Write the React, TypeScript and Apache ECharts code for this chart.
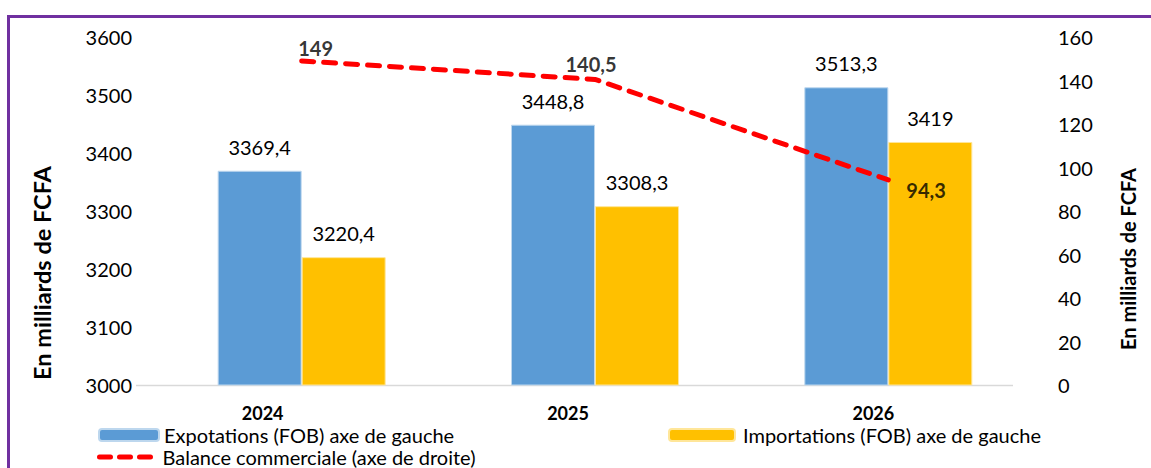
import React, { useEffect, useRef } from "react";
import * as echarts from "echarts";

const categories = ["2024", "2025", "2026"];
const exportations = [3369.4, 3448.8, 3513.3];
const importations = [3220.4, 3308.3, 3419];
const balance = [149, 140.5, 94.3];

const FONT = "Lato";
const fmt = (v: number) => String(v).replace(".", ",");
const DASH_ICON =
  "path://M2.5,0h11a2.5,2.5 0 0 1 0,5h-11a2.5,2.5 0 0 1 0,-5Z" +
  "M22.5,0h11a2.5,2.5 0 0 1 0,5h-11a2.5,2.5 0 0 1 0,-5Z" +
  "M42.5,0h11a2.5,2.5 0 0 1 0,5h-11a2.5,2.5 0 0 1 0,-5Z";

export default function App() {
  const ref = useRef<HTMLDivElement>(null);
  useEffect(() => {
    if (!ref.current) return;
    const chart = echarts.init(ref.current, null, { renderer: "svg" });
    const balanceLabels = [
      { position: "top", offset: [14, 2] },
      { position: "top", offset: [-4, 0] },
      { position: "right", offset: [13, 10] },
    ];
    const legendText = { fontSize: 20, lineHeight: 20, color: "#000", fontFamily: FONT };
    chart.setOption({
      animation: false,
      textStyle: { fontFamily: FONT },
      grid: { left: 155, right: 116, top: 37, bottom: 83 },
      legend: [
        {
          data: ["Expotations (FOB) axe de gauche"],
          left: 98, top: 425, itemWidth: 60, itemHeight: 12, padding: 0, itemGap: 5,
          textStyle: legendText,
        },
        {
          data: ["Importations (FOB) axe de gauche"],
          left: 668, top: 425, itemWidth: 66, itemHeight: 12, padding: 0,
          textStyle: { ...legendText, padding: [0, 0, 0, 3] },
        },
        {
          data: [{ name: "Balance commerciale (axe de droite)", icon: DASH_ICON, itemStyle: { color: "#ff0000" } }],
          left: 97, top: 447, itemWidth: 57, itemHeight: 5, padding: 0,
          textStyle: { ...legendText, padding: [0, 0, 0, 4] },
        },
      ],
      xAxis: {
        type: "category",
        data: categories,
        axisLine: { show: false },
        axisTick: { show: false },
        axisLabel: {
          margin: 19,
          formatter: (v: string, i: number) => `{a${i}|${v}}`,
          rich: {
            a0: { fontSize: 18, lineHeight: 18, fontWeight: "bold", color: "#000", fontFamily: FONT, padding: [0, 78, 0, 0] },
            a1: { fontSize: 18, lineHeight: 18, fontWeight: "bold", color: "#000", fontFamily: FONT, padding: [0, 54, 0, 0] },
            a2: { fontSize: 18, lineHeight: 18, fontWeight: "bold", color: "#000", fontFamily: FONT, padding: [0, 30, 0, 0] },
          },
        },
      },
      yAxis: [
        {
          type: "value", min: 3000, max: 3600, interval: 100,
          axisLine: { show: false }, axisTick: { show: false }, splitLine: { show: false },
          axisLabel: { fontSize: 20, color: "#000", margin: 23, fontFamily: FONT, formatter: (v: number) => String(v) },
        },
        {
          type: "value", min: 0, max: 160, interval: 20,
          axisLine: { show: false }, axisTick: { show: false }, splitLine: { show: false },
          axisLabel: { fontSize: 20, color: "#000", margin: 23, fontFamily: FONT, formatter: (v: number) => String(v) },
        },
      ],
      series: [
        {
          name: "Expotations (FOB) axe de gauche",
          type: "bar", data: exportations, barWidth: 84, barGap: "0%",
          itemStyle: { color: "#5b9bd5", borderColor: "#bdd7ee", borderWidth: 1 },
          label: { show: true, position: "top", distance: 14, fontSize: 20, color: "#000", fontFamily: FONT, formatter: (p: any) => fmt(p.value) },
        },
        {
          name: "Importations (FOB) axe de gauche",
          type: "bar", data: importations, barWidth: 84,
          itemStyle: { color: "#ffc000", borderColor: "#ffe699", borderWidth: 1 },
          label: { show: true, position: "top", distance: 14, fontSize: 20, color: "#000", fontFamily: FONT, formatter: (p: any) => fmt(p.value) },
        },
        {
          name: "Balance commerciale (axe de droite)",
          type: "line", yAxisIndex: 1, symbol: "none",
          data: balance,
          lineStyle: { color: "#ff0000", width: 5, type: [12, 10], cap: "round" },
          itemStyle: { color: "#ff0000" },
          z: 5,
        },
        {
          name: "balance-labels",
          type: "scatter", yAxisIndex: 1, symbolSize: 0,
          data: balance.map((v, i) => ({ value: v, label: balanceLabels[i] })),
          itemStyle: { color: "rgba(0,0,0,0)" },
          label: { show: true, fontSize: 20, fontWeight: "bold", color: "#000", fontFamily: FONT, formatter: (p: any) => fmt(p.value) },
          z: 6,
        },
      ],
      graphic: [
        { type: "line", shape: { x1: 136, y1: 385.5, x2: 1013, y2: 385.5 }, style: { stroke: "#d9d9d9", lineWidth: 1.5 }, z: 0 },
        { type: "rect", shape: { x: 7, y: 15, width: 1144, height: 3 }, style: { fill: "#7030a0" } },
        { type: "rect", shape: { x: 7, y: 15, width: 3, height: 453 }, style: { fill: "#7030a0" } },
        {
          type: "text", x: 42, y: 273, rotation: Math.PI / 2,
          style: { text: "En milliards de FCFA", fontSize: 23.5, fontWeight: "bold", fill: "#000", fontFamily: FONT, align: "center", verticalAlign: "middle" },
        },
        {
          type: "text", x: 1128, y: 259, rotation: Math.PI / 2,
          style: { text: "En milliards de FCFA", fontSize: 20, fontWeight: "bold", fill: "#000", fontFamily: FONT, align: "center", verticalAlign: "middle" },
        },
      ],
    });
    return () => chart.dispose();
  }, []);
  return <div ref={ref} style={{ position: "absolute", left: 0, top: 0, width: 1151, height: 468, background: "#fff" }} />;
}
